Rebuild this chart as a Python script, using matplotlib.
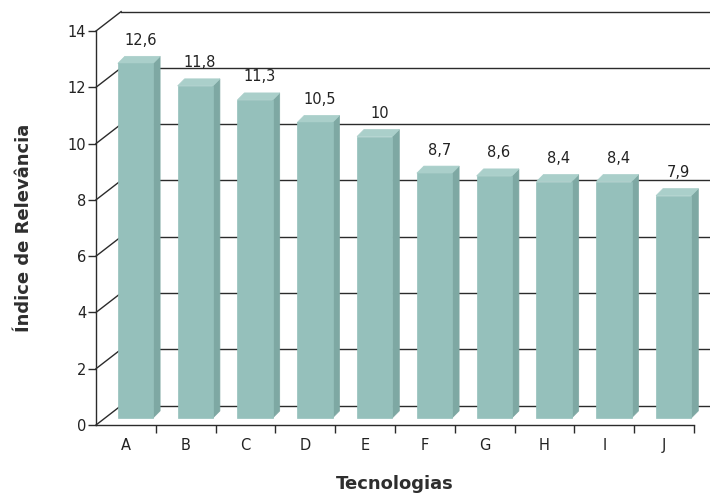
import matplotlib
matplotlib.use("Agg")
import matplotlib.pyplot as plt
from matplotlib.patches import Polygon

# Relevance index per technology
technologies = ["A", "B", "C", "D", "E", "F", "G", "H", "I", "J"]
relevance = [12.6, 11.8, 11.3, 10.5, 10.0, 8.7, 8.6, 8.4, 8.4, 7.9]
value_labels = ["12,6", "11,8", "11,3", "10,5", "10", "8,7", "8,6", "8,4", "8,4", "7,9"]
y_ticks = [0, 2, 4, 6, 8, 10, 12, 14]

# pseudo-3D geometry in data units
wall_dx, wall_dy = 0.42, 0.69      # depth of the back wall
bar_x0, bar_w = 0.365, 0.59        # front face position inside a category
bar_lift = 0.25                    # front face sits a bit into the floor
bar_dx, bar_dy = 0.117, 0.25       # depth of each bar

face_col = "#95c0bb"
side_col = "#7ea8a3"
top_col = "#aacfca"
line_col = "#2b2b2b"

fig = plt.figure(figsize=(7.1, 4.94), dpi=100)
ax = fig.add_axes([96 / 710, 69 / 494, 598 / 710, 394 / 494])
ax.set_xlim(0, 10)
ax.set_ylim(0, 14)
ax.patch.set_visible(False)

# back wall gridlines + left wall diagonals
for t in y_ticks:
    ax.plot([wall_dx, 10 + wall_dx + 0.5], [t + wall_dy, t + wall_dy],
            color=line_col, lw=1.0, zorder=1, clip_on=False)
    ax.plot([0, wall_dx], [t, t + wall_dy],
            color=line_col, lw=1.0, zorder=1, clip_on=False)

# bars
for i, v in enumerate(relevance):
    x0 = i + bar_x0
    x1 = x0 + bar_w
    y0 = bar_lift
    yt = v + bar_lift
    front = [(x0, y0), (x1, y0), (x1, yt), (x0, yt)]
    side = [(x1, y0), (x1 + bar_dx, y0 + bar_dy), (x1 + bar_dx, yt + bar_dy), (x1, yt)]
    top = [(x0, yt), (x1, yt), (x1 + bar_dx, yt + bar_dy), (x0 + bar_dx, yt + bar_dy)]
    for pts, c in [(side, side_col), (top, top_col), (front, face_col)]:
        ax.add_patch(Polygon(pts, closed=True, facecolor=c, edgecolor=c,
                             lw=0.5, zorder=3, clip_on=False))
    ax.text(x0 + bar_w / 2 + 0.08, yt + bar_dy + 0.3, value_labels[i],
            ha="center", va="bottom", fontsize=10.5, color="#222222", zorder=5)

# axes: left and bottom spines only
for s in ["top", "right"]:
    ax.spines[s].set_visible(False)
for s in ["left", "bottom"]:
    ax.spines[s].set_color(line_col)
    ax.spines[s].set_linewidth(1.0)
    ax.spines[s].set_zorder(4)

ax.set_yticks(y_ticks)
ax.set_yticklabels([str(t) for t in y_ticks])
ax.tick_params(axis="y", length=6, width=1.0, color=line_col, pad=1,
               labelsize=10.5, labelcolor="#222222")

ax.set_xticks(range(1, 11))
ax.set_xticklabels([])
ax.set_xticks([i + 0.5 for i in range(10)], minor=True)
ax.set_xticklabels(technologies, minor=True)
ax.tick_params(axis="x", which="major", length=6, width=1.0, color=line_col)
ax.tick_params(axis="x", which="minor", length=0, pad=9,
               labelsize=10.5, labelcolor="#222222")

ax.set_xlabel("Tecnologias", fontsize=13, fontweight="bold", color="#2e2e2e", labelpad=16)
ax.set_ylabel("Índice de Relevância", fontsize=13, fontweight="bold", color="#2e2e2e", labelpad=25)

fig.savefig("out.png", dpi=100)
